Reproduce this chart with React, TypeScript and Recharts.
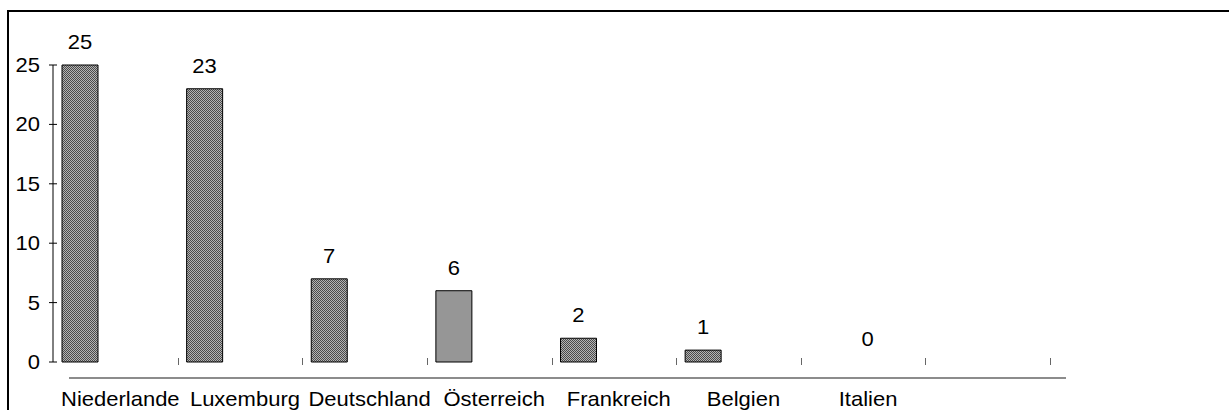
import { BarChart, Bar, XAxis, YAxis, Cell, LabelList } from 'recharts'

// Länder und Werte aus der Vorlage (letzte Kategorie ist leer)
const countries = ['Niederlande', 'Luxemburg', 'Deutschland', 'Österreich', 'Frankreich', 'Belgien', 'Italien', '']
const counts: (number | null)[] = [25, 23, 7, 6, 2, 1, 0, null]
const yTicks = [0, 5, 10, 15, 20, 25]

const data = countries.map((name, i) => ({ name, value: counts[i] }))

const FONT = '"Liberation Sans", Arial, sans-serif'

// Schrift in der Vorlage ist etwas in die Breite gezogen
function Label({ x, y, anchor, children }: any) {
  return (
    <text
      x={x}
      y={y}
      textAnchor={anchor}
      fontSize={20}
      fontFamily={FONT}
      fill="#000"
      transform={`translate(${x},0) scale(1.1,1) translate(${-x},0)`}
    >
      {children}
    </text>
  )
}

function YTick(props: any) {
  const { x, y, payload } = props
  return (
    <g>
      <line x1={x - 4} x2={x + 4} y1={y} y2={y} stroke="#000" />
      <Label x={x - 13} y={y + 7} anchor="end">{payload.value}</Label>
    </g>
  )
}

function XTick(props: any) {
  const { x, y, payload } = props
  const half = payload.offset ?? 62.3
  const edge = Math.round(x + half) + 0.5
  return (
    <g>
      <line x1={edge} x2={edge} y1={y - 4} y2={y + 3} stroke="#666" />
      <Label x={x + 5} y={y + 44} anchor="middle">{payload.value}</Label>
    </g>
  )
}

function ValueLabel(props: any) {
  const { x, y, width, height, value } = props
  if (value === null || value === undefined) return null
  const shift = value === 0 ? width + 4 : 0
  const top = value === 0 ? y + height : y
  return <Label x={x + width / 2 + shift} y={top - 16} anchor="middle">{value}</Label>
}

export default function App() {
  return (
    <div style={{ position: 'absolute', left: 0, top: 0, width: 1229, height: 410, overflow: 'hidden', background: '#fff' }}>
      <div
        style={{
          position: 'absolute', left: 7, top: 10, width: 1260, height: 440,
          border: '2px solid #000', boxSizing: 'border-box',
        }}
      />
      <div style={{ position: 'absolute', left: 0, top: 0 }}>
        <BarChart
          width={1229}
          height={410}
          data={data}
          margin={{ top: 65, right: 179, bottom: 0, left: 0 }}
          barSize={36}
          barGap={35}
        >
          <defs>
            <pattern id="hatch" width="2" height="2" patternUnits="userSpaceOnUse">
              <rect width="2" height="2" fill="#b4b4b4" />
              <rect width="1" height="1" fill="#4a4a4a" />
              <rect x="1" y="1" width="1" height="1" fill="#4a4a4a" />
            </pattern>
          </defs>
          <XAxis
            dataKey="name"
            height={48}
            interval={0}
            tickSize={0}
            tickMargin={0}
            tick={<XTick />}
            axisLine={{ stroke: '#666', strokeWidth: 1.5, transform: 'translate(16, 16)' }}
          />
          <YAxis
            width={53}
            domain={[0, 25]}
            ticks={yTicks}
            interval={0}
            tickSize={0}
            tickMargin={0}
            tick={<YTick />}
            axisLine={{ stroke: '#000' }}
          />
          <Bar dataKey="value" stroke="#000" strokeWidth={1} minPointSize={0.01} isAnimationActive={false}>
            {data.map((d, i) => (
              <Cell
                key={i}
                fill={d.name === 'Österreich' ? '#969696' : 'url(#hatch)'}
                stroke={d.value ? '#000' : 'none'}
              />
            ))}
            <LabelList dataKey="value" content={<ValueLabel />} />
          </Bar>
          <Bar dataKey="pad" fill="transparent" isAnimationActive={false} />
        </BarChart>
      </div>
    </div>
  )
}
